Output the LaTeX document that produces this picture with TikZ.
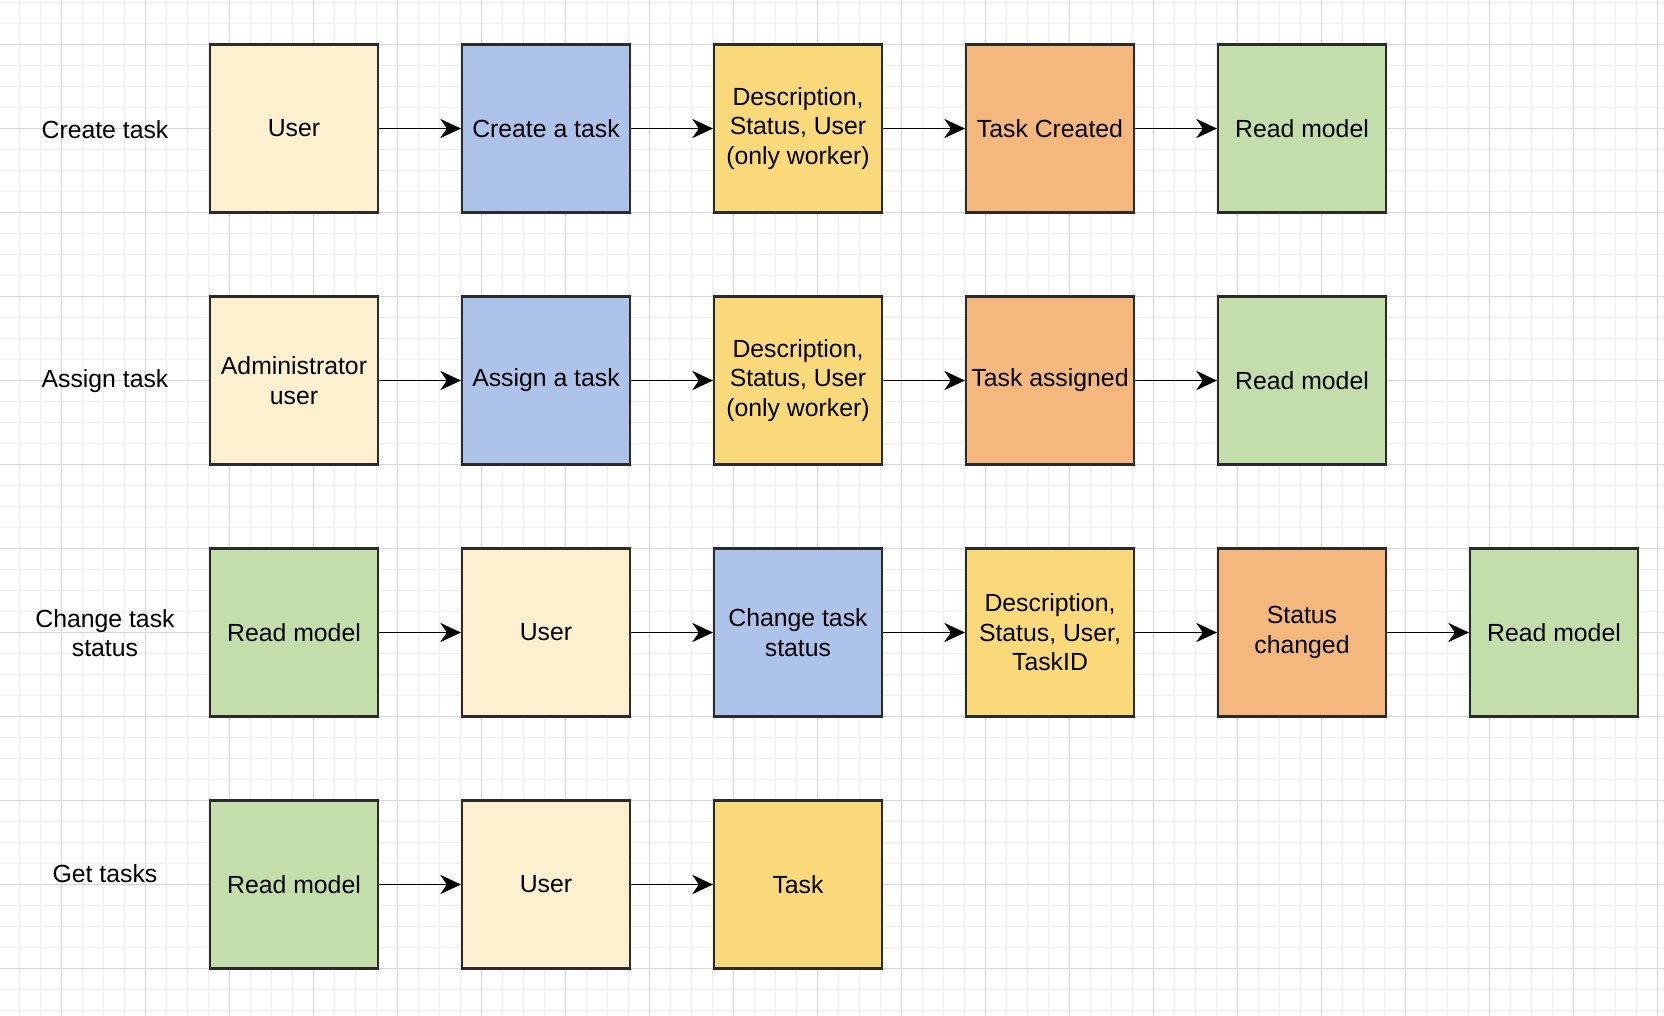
\documentclass[tikz,border=0pt]{standalone}
\usepackage{fontspec}
\setmainfont{Liberation Sans}
\usepackage{tikz}
\usetikzlibrary{arrows.meta}

\definecolor{userfill}{HTML}{FCF0CF}
\definecolor{cmdfill}{HTML}{AEC3EA}
\definecolor{datfill}{HTML}{F9D97A}
\definecolor{evtfill}{HTML}{F4B77D}
\definecolor{rmfill}{HTML}{C3DEAB}
\definecolor{boxline}{HTML}{2B2B2B}
\definecolor{gridmajor}{HTML}{D6D6D6}
\definecolor{gridminor}{HTML}{EFEFEF}

\begin{document}
\begin{tikzpicture}[
    box/.style={draw=boxline, line width=0.7pt, minimum width=2cm, minimum height=2cm, inner sep=0pt, align=center, font=\fontsize{8.4}{10}\selectfont},
    userbox/.style={box, fill=userfill},
    cmdbox/.style={box, fill=cmdfill},
    datbox/.style={box, fill=datfill},
    evtbox/.style={box, fill=evtfill},
    rmbox/.style={box, fill=rmfill},
    rowlabel/.style={align=center, font=\fontsize{8.4}{10}\selectfont},
    flow/.style={-{Stealth[length=7pt, width=6.5pt, inset=2.2pt]}, line width=0.55pt}
  ]
    \useasboundingbox (0,0) rectangle (19.81,-12.095);
    \fill[white] (0,0) rectangle (19.81,-12.095);
    \foreach \k in {0,...,78} \draw[gridminor, line width=0.5pt] ({0.23+0.25*\k},0) -- ({0.23+0.25*\k},-12.095);
    \foreach \k in {0,...,48} \draw[gridminor, line width=0.5pt] (0,{-0.03-0.25*\k}) -- (19.81,{-0.03-0.25*\k});
    \foreach \k in {0,...,19} \draw[gridmajor, line width=0.4pt] ({0.73+\k},0) -- ({0.73+\k},-12.095);
    \foreach \k in {0,...,11} \draw[gridmajor, line width=0.4pt] (0,{-0.53-\k}) -- (19.81,{-0.53-\k});

    \node[rowlabel] (l1) at (1.25, -1.54) {Create task};
    \node[userbox] (a1) at (3.5, -1.53) {User};
    \node[cmdbox] (a2) at (6.5, -1.53) {Create a task};
    \node[datbox] (a3) at (9.5, -1.53) {Description,\\Status, User\\(only worker)};
    \node[evtbox] (a4) at (12.5, -1.53) {Task Created};
    \node[rmbox] (a5) at (15.5, -1.53) {Read model};
    \draw[flow] (a1) -- (a2);
    \draw[flow] (a2) -- (a3);
    \draw[flow] (a3) -- (a4);
    \draw[flow] (a4) -- (a5);

    \node[rowlabel] (l2) at (1.25, -4.54) {Assign task};
    \node[userbox] (b1) at (3.5, -4.53) {Administrator\\user};
    \node[cmdbox] (b2) at (6.5, -4.53) {Assign a task};
    \node[datbox] (b3) at (9.5, -4.53) {Description,\\Status, User\\(only worker)};
    \node[evtbox] (b4) at (12.5, -4.53) {Task assigned};
    \node[rmbox] (b5) at (15.5, -4.53) {Read model};
    \draw[flow] (b1) -- (b2);
    \draw[flow] (b2) -- (b3);
    \draw[flow] (b3) -- (b4);
    \draw[flow] (b4) -- (b5);

    \node[rowlabel] (l3) at (1.25, -7.54) {Change task\\status};
    \node[rmbox] (c1) at (3.5, -7.53) {Read model};
    \node[userbox] (c2) at (6.5, -7.53) {User};
    \node[cmdbox] (c3) at (9.5, -7.53) {Change task\\status};
    \node[datbox] (c4) at (12.5, -7.53) {Description,\\Status, User,\\TaskID};
    \node[evtbox] (c5) at (15.5, -7.53) {Status\\changed};
    \node[rmbox] (c6) at (18.5, -7.53) {Read model};
    \draw[flow] (c1) -- (c2);
    \draw[flow] (c2) -- (c3);
    \draw[flow] (c3) -- (c4);
    \draw[flow] (c4) -- (c5);
    \draw[flow] (c5) -- (c6);

    \node[rowlabel] (l4) at (1.25, -10.40) {Get tasks};
    \node[rmbox] (d1) at (3.5, -10.53) {Read model};
    \node[userbox] (d2) at (6.5, -10.53) {User};
    \node[datbox] (d3) at (9.5, -10.53) {Task};
    \draw[flow] (d1) -- (d2);
    \draw[flow] (d2) -- (d3);
  \end{tikzpicture}
\end{document}
